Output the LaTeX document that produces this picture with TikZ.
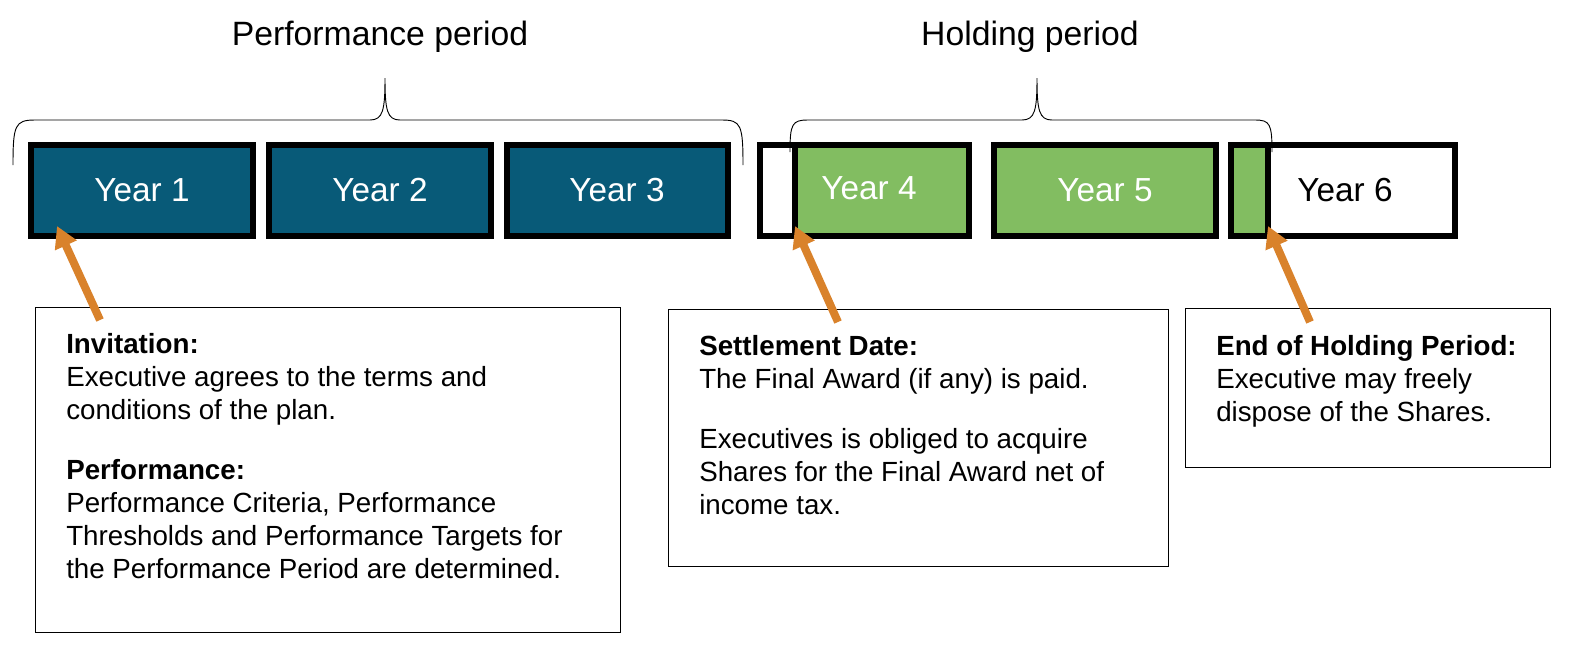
\documentclass[tikz,border=0pt]{standalone}
\usepackage{fontspec}
\setmainfont{Liberation Sans}
\begin{document}
\begin{tikzpicture}[x=0.75pt,y=-0.75pt,
  yr/.style={draw=black,line width=4.5pt,minimum height=91*0.75pt,inner sep=0pt,font=\fontsize{25}{29}\selectfont},
  blue/.style={fill=teal0,text=white},
  note/.style={draw=black,line width=0.8pt},
  txt/.style={anchor=north west,inner sep=0pt,align=left,font=\fontsize{20.8}{24.75}\selectfont},
  arr/.style={draw=org,line width=6pt,-{Triangle[length=16pt,width=17pt]}},
  br/.style={draw=black,line width=0.7pt}]
\definecolor{teal0}{HTML}{085A78}
\definecolor{grn}{HTML}{82BD61}
\definecolor{org}{HTML}{D9822B}
\usetikzlibrary{arrows.meta}
\useasboundingbox (0,0) rectangle (1571,658);
% year boxes
\node[yr,blue,minimum width=222*0.75pt] (y1) at (142,190.5) {Year 1};
\node[yr,blue,minimum width=222*0.75pt] (y2) at (380,190.5) {Year 2};
\node[yr,blue,minimum width=221*0.75pt] (y3) at (617,190.5) {Year 3};
\fill[grn] (795,146) rectangle (967,235);
\node[yr,minimum width=209*0.75pt] (y4) at (864,190.5) {};
\node[font=\fontsize{25}{29}\selectfont,text=white] (t4) at (869,188) {Year 4};
\node[yr,fill=grn,text=white,minimum width=222*0.75pt] (y5) at (1105,190.5) {Year 5};
\fill[grn] (1233,146) rectangle (1268,235);
\node[yr,minimum width=224*0.75pt] (y6) at (1343,190.5) {};
\node[font=\fontsize{25}{29}\selectfont] (t6) at (1345,190) {Year 6};
\draw[black,line width=4.5pt] (795,143) -- (795,238) (1268,143) -- (1268,238);
% braces
\draw[br] (13,165) .. controls (13,125) and (15,120) .. (35,120) -- (370,120) .. controls (383,120) and (385,110) .. (385,78)
  .. controls (385,110) and (387,120) .. (400,120) -- (722,120) .. controls (741,120) and (743,125) .. (743,165);
\draw[br] (790,152) .. controls (790,124) and (792,120) .. (808,120) -- (1022,120) .. controls (1035,120) and (1037,110) .. (1037,78)
  .. controls (1037,110) and (1039,120) .. (1052,120) -- (1255,120) .. controls (1270,120) and (1272,124) .. (1272,152);
\node[font=\fontsize{25.3}{29}\selectfont] (pp) at (380,37) {Performance period};
\node[font=\fontsize{25.3}{29}\selectfont] (hp) at (1030,37) {Holding period};
% notes
\node[note,minimum width=585*0.75pt,minimum height=325*0.75pt,anchor=north west] (n1) at (35,307) {};
\node[note,minimum width=500*0.75pt,minimum height=257*0.75pt,anchor=north west] (n2) at (668,309) {};
\node[note,minimum width=365*0.75pt,minimum height=159*0.75pt,anchor=north west] (n3) at (1185,308) {};
\node[txt] (x1) at (66,333) {\textbf{Invitation:}\\Executive agrees to the terms and\\conditions of the plan.\\[20pt]\textbf{Performance:}\\Performance Criteria, Performance\\Thresholds and Performance Targets for\\the Performance Period are determined.};
\node[txt] (x2) at (699,335) {\textbf{Settlement Date:}\\The Final Award (if any) is paid.\\[20pt]Executives is obliged to acquire\\Shares for the Final Award net of\\income tax.};
\node[txt] (x3) at (1216,335) {\textbf{End of Holding Period:}\\Executive may freely\\dispose of the Shares.};
% arrows
\coordinate (a1) at (100,320); \coordinate (b1) at (57,226);
\coordinate (a2) at (838,322); \coordinate (b2) at (795,226);
\coordinate (a3) at (1310,322); \coordinate (b3) at (1268,226);
\draw[arr] (a1) -- (b1);
\draw[arr] (a2) -- (b2);
\draw[arr] (a3) -- (b3);
\end{tikzpicture}
\end{document}
